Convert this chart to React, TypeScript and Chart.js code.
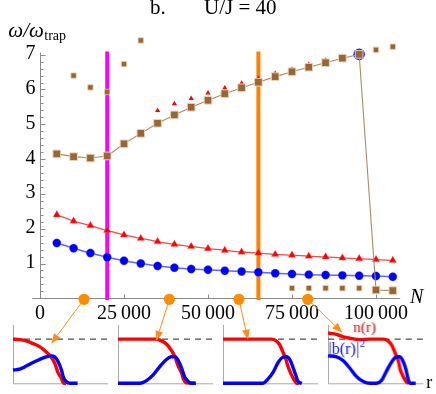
import React, { useEffect, useRef } from "react";
import { Chart, registerables } from "chart.js";
Chart.register(...registerables);

// ---------- main chart data ----------
const particleNumbers = [5000, 10000, 15000, 20000, 25000, 30000, 35000, 40000, 45000, 50000, 55000, 60000, 65000, 70000, 75000, 80000, 85000, 90000, 95000, 100000, 105000];
const blueMode = [1.59, 1.44, 1.30, 1.18, 1.08, 1.00, 0.93, 0.88, 0.84, 0.82, 0.79, 0.77, 0.75, 0.72, 0.70, 0.68, 0.67, 0.66, 0.65, 0.64, 0.62];
const redMode = [2.40, 2.22, 2.09, 1.95, 1.82, 1.72, 1.63, 1.55, 1.49, 1.43, 1.38, 1.33, 1.30, 1.26, 1.24, 1.21, 1.19, 1.16, 1.14, 1.11, 1.09];
const brownMode = [4.15, 4.07, 4.03, 4.09, 4.44, 4.74, 5.03, 5.27, 5.49, 5.69, 5.88, 6.05, 6.21, 6.37, 6.51, 6.64, 6.77, 6.90, 7.01, 0.24, 0.22];
const brownExtraHighN = [10000, 15000, 20000, 25000, 30000, 100000, 105000];
const brownExtraHigh = [6.40, 6.06, 5.93, 6.73, 7.41, 7.14, 7.23];
const brownExtraLowN = [75000, 80000, 85000, 90000, 95000];
const brownExtraLow = [0.29, 0.29, 0.29, 0.29, 0.29];
const redExtraN = [35000, 40000, 45000, 50000, 55000, 60000, 65000, 70000, 75000, 80000, 85000];
const redExtra = [5.40, 5.59, 5.74, 5.90, 6.04, 6.18, 6.32, 6.46, 6.58, 6.72, 6.84];
const blueExtraN = [95000];
const blueExtra = [7.01];
const markerLinesN = [20000, 65000];
const markerLineColors = ["#ff00ff", "#ff8000"];
const markerLineRange = [-0.05, 7.09];
const profileMarkersN = [13100, 38500, 59200, 79700];
const xTickValues = [0, 25000, 50000, 75000, 100000];
const xTickLabels = ["0", "25\u2009000", "50\u2009000", "75\u2009000", "100\u2009000"];
const yTickValues = [1, 2, 3, 4, 5, 6, 7];
const yTickLabels = ["1", "2", "3", "4", "5", "6", "7"];
const xAxisExtent = [-2300, 107200];
const yAxisExtent = [0, 7.06];

// ---------- inset profile data (r normalised, density) ----------
const panel1RedR = [0, 0.07, 0.14, 0.21, 0.28, 0.35, 0.40, 0.44, 0.47, 0.51, 0.53, 0.56];
const panel1RedN = [1.0, 0.99, 0.96, 0.90, 0.83, 0.71, 0.60, 0.45, 0.26, 0.11, 0.01, 0];
const panel1BlueR = [0, 0.07, 0.14, 0.21, 0.28, 0.35, 0.40, 0.44, 0.47, 0.51, 0.53, 0.56, 0.60, 0.68];
const panel1BlueB = [0.30, 0.32, 0.39, 0.47, 0.54, 0.60, 0.62, 0.60, 0.51, 0.30, 0.14, 0.04, 0, 0];

const panel2RedR = [0, 0.40, 0.46, 0.51, 0.56, 0.60, 0.63, 0.67, 0.69, 0.72, 0.81];
const panel2RedN = [1, 1, 0.96, 0.89, 0.75, 0.60, 0.41, 0.23, 0.09, 0.01, 0];
const panel2BlueR = [0, 0.23, 0.30, 0.37, 0.44, 0.51, 0.56, 0.60, 0.63, 0.67, 0.70, 0.74, 0.77, 0.82];
const panel2BlueB = [0, 0, 0.06, 0.19, 0.38, 0.54, 0.60, 0.60, 0.53, 0.34, 0.15, 0.04, 0, 0];

const panel3RedR = [0, 0.51, 0.56, 0.60, 0.63, 0.66, 0.68, 0.71, 0.74, 0.77, 0.80];
const panel3RedN = [1, 1, 0.96, 0.86, 0.71, 0.56, 0.41, 0.24, 0.11, 0.01, 0];
const panel3BlueR = [0, 0.42, 0.47, 0.53, 0.58, 0.63, 0.67, 0.71, 0.74, 0.77, 0.79, 0.83];
const panel3BlueB = [0, 0, 0.09, 0.26, 0.47, 0.59, 0.60, 0.51, 0.34, 0.16, 0.04, 0];

const panel4RedR = [0, 0.09, 0.16, 0.23, 0.33, 0.44, 0.58, 0.63, 0.67, 0.70, 0.74, 0.76, 0.79, 0.82, 0.85];
const panel4RedN = [1.14, 1.11, 1.05, 1.02, 0.99, 1.0, 1.0, 0.96, 0.86, 0.71, 0.49, 0.30, 0.15, 0.04, 0];
const panel4BlueR = [0, 0.09, 0.16, 0.23, 0.30, 0.37, 0.44, 0.51, 0.56, 0.61, 0.67, 0.72, 0.75, 0.79, 0.82, 0.84, 0.86, 0.92];
const panel4BlueB = [0.62, 0.60, 0.51, 0.34, 0.15, 0.04, 0, 0, 0.06, 0.26, 0.49, 0.60, 0.60, 0.49, 0.30, 0.11, 0, 0];

const referenceDensity = 1;
const arrowTargetsR = [0.40, 0.40, 0.26, 0.147];
const arrowTargetsN = [0.90, 0.96, 0.99, 1.15];

// ---------- layout ----------
const W = 436;
const H = 394;
const PLOT = { left: 40, right: 399.5, top: 37.3, bottom: 298.3 };
const INSET_LEFTS = [13.3, 118.3, 223.3, 328.3];
const INSET_W = 95;
const INSET_TOP = 318;
const INSET_PLOT_TOP = 325;
const INSET_PLOT_BOTTOM = 383.3;
const SERIF = '"Liberation Serif", "DejaVu Serif", serif';

const zip = (xs: number[], ys: number[]) => xs.map((x, i) => ({ x, y: ys[i] }));

function drawArrow(ctx: CanvasRenderingContext2D, x0: number, y0: number, x1: number, y1: number) {
  const ang = Math.atan2(y1 - y0, x1 - x0);
  const L = 10, w = 4;
  const bx = x1 - L * Math.cos(ang);
  const by = y1 - L * Math.sin(ang);
  ctx.beginPath();
  ctx.moveTo(x0, y0);
  ctx.lineTo(bx, by);
  ctx.stroke();
  ctx.beginPath();
  ctx.moveTo(x1, y1);
  ctx.lineTo(bx + w * Math.sin(ang), by - w * Math.cos(ang));
  ctx.lineTo(bx - w * Math.sin(ang), by + w * Math.cos(ang));
  ctx.closePath();
  ctx.fill();
}

export default function App() {
  const mainRef = useRef<HTMLCanvasElement>(null);
  const i1 = useRef<HTMLCanvasElement>(null);
  const i2 = useRef<HTMLCanvasElement>(null);
  const i3 = useRef<HTMLCanvasElement>(null);
  const i4 = useRef<HTMLCanvasElement>(null);

  const insetCanvasLeft = (i: number) => INSET_LEFTS[i] - 2;
  const insetCanvasWidth = (i: number) => (i === 3 ? W - insetCanvasLeft(i) : INSET_W + 4);

  useEffect(() => {
    document.body.style.margin = "0";
    const panels = [
      [panel1RedR, panel1RedN, panel1BlueR, panel1BlueB],
      [panel2RedR, panel2RedN, panel2BlueR, panel2BlueB],
      [panel3RedR, panel3RedN, panel3BlueR, panel3BlueB],
      [panel4RedR, panel4RedN, panel4BlueR, panel4BlueB],
    ];
    const refs = [i1, i2, i3, i4];
    const insets: Chart[] = [];

    panels.forEach((p, i) => {
      const cw = insetCanvasWidth(i);
      const insetPlugin = {
        id: "insetDecor" + i,
        beforeDatasetsDraw(chart: any) {
          const { ctx, chartArea: a } = chart;
          ctx.save();
          ctx.strokeStyle = "#a8a8a8";
          ctx.lineWidth = 1;
          ctx.beginPath();
          ctx.moveTo(a.left + 0.5, a.top);
          ctx.lineTo(a.left + 0.5, a.bottom + 0.5);
          ctx.lineTo(a.right, a.bottom + 0.5);
          ctx.stroke();
          ctx.restore();
        },
        afterDatasetsDraw(chart: any) {
          if (i !== 3) return;
          const { ctx, chartArea: a } = chart;
          ctx.save();
          ctx.textBaseline = "alphabetic";
          ctx.fillStyle = "#ff0000";
          ctx.font = `15px ${SERIF}`;
          ctx.fillText("n(r)", a.left + 25, 331.5 - INSET_TOP);
          ctx.fillStyle = "#1515ff";
          ctx.font = `16px ${SERIF}`;
          ctx.fillText("|b(r)|", a.left + 0.5, 354 - INSET_TOP);
          const wb = ctx.measureText("|b(r)|").width;
          ctx.font = `11px ${SERIF}`;
          ctx.fillText("2", a.left + 0.5 + wb + 0.5, 347 - INSET_TOP);
          ctx.fillStyle = "#000";
          ctx.font = `18px ${SERIF}`;
          ctx.fillText("r", a.right + 3, 387.5 - INSET_TOP);
          ctx.restore();
        },
      };
      const c = new Chart(refs[i].current!, {
        type: "scatter",
        data: {
          datasets: [
            {
              data: zip(p[2], p[3]),
              showLine: true,
              borderColor: "#0000ff",
              borderWidth: 3.4,
              pointRadius: 0,
              cubicInterpolationMode: "monotone",
              clip: false,
            } as any,
            {
              data: zip(p[0], p[1]),
              showLine: true,
              borderColor: "#ff0000",
              borderWidth: 3.4,
              pointRadius: 0,
              cubicInterpolationMode: "monotone",
              clip: false,
            } as any,
            {
              data: [
                { x: 0, y: referenceDensity },
                { x: 1, y: referenceDensity },
              ],
              showLine: true,
              borderColor: "#222",
              borderWidth: 1,
              borderDash: [6, 5],
              pointRadius: 0,
            } as any,
          ],
        },
        options: {
          responsive: false,
          animation: false,
          events: [],
          layout: {
            padding: {
              left: 2,
              right: cw - 2 - INSET_W,
              top: INSET_PLOT_TOP - INSET_TOP,
              bottom: H - INSET_PLOT_BOTTOM,
            },
          },
          plugins: { legend: { display: false }, tooltip: { enabled: false } },
          scales: {
            x: { type: "linear", min: 0, max: 1, display: false },
            y: { type: "linear", min: 0, max: 1.32, display: false },
          },
        },
        plugins: [insetPlugin],
      });
      insets.push(c);
    });

    const mainPlugin = {
      id: "mainDecor",
      beforeDatasetsDraw(chart: any) {
        const { ctx } = chart;
        const xs = chart.scales.x;
        const ys = chart.scales.y;
        ctx.save();
        ctx.strokeStyle = "#8a8a8a";
        ctx.lineWidth = 1;
        const y0 = Math.round(ys.getPixelForValue(0)) + 0.5;
        const x0 = Math.round(xs.getPixelForValue(0)) + 0.5;
        // x axis
        ctx.beginPath();
        ctx.moveTo(xs.getPixelForValue(xAxisExtent[0]), y0);
        ctx.lineTo(xs.getPixelForValue(xAxisExtent[1]), y0);
        ctx.stroke();
        // y axis
        ctx.beginPath();
        ctx.moveTo(x0, y0);
        ctx.lineTo(x0, ys.getPixelForValue(yAxisExtent[1]));
        ctx.stroke();
        // x ticks
        xTickValues.forEach((v) => {
          const px = Math.round(xs.getPixelForValue(v)) + 0.5;
          ctx.beginPath();
          ctx.moveTo(px, y0);
          ctx.lineTo(px, y0 - 4);
          ctx.stroke();
        });
        // y ticks (major + minor)
        for (let k = 1; k <= 35; k++) {
          const v = k / 5;
          const py = Math.round(ys.getPixelForValue(v)) + 0.5;
          const major = k % 5 === 0;
          ctx.beginPath();
          ctx.moveTo(x0, py);
          ctx.lineTo(x0 + (major ? 5 : 3), py);
          ctx.stroke();
        }
        // labels
        ctx.fillStyle = "#000";
        ctx.font = `20px ${SERIF}`;
        ctx.textBaseline = "alphabetic";
        ctx.textAlign = "center";
        xTickValues.forEach((v, i) => {
          ctx.fillText(xTickLabels[i], xs.getPixelForValue(v), 319);
        });
        ctx.textAlign = "right";
        yTickValues.forEach((v, i) => {
          ctx.fillText(yTickLabels[i], 35.5, ys.getPixelForValue(v) + 4.5);
        });
        ctx.textAlign = "left";
        // axis titles
        ctx.font = `italic 20px ${SERIF}`;
        ctx.fillText("N", 410, 302.5);
        ctx.font = `italic 21px ${SERIF}`;
        ctx.fillText("\u03c9/\u03c9", 8.3, 36.5);
        const ww = ctx.measureText("\u03c9/\u03c9").width;
        ctx.font = `14px ${SERIF}`;
        ctx.fillText("trap", 8.3 + ww + 0.5, 39.5);
        // title
        ctx.font = `21px ${SERIF}`;
        ctx.fillText("b.", 150, 14);
        ctx.fillText("U/J = 40", 204, 14);
        ctx.restore();
      },
      afterDatasetsDraw(chart: any) {
        const { ctx } = chart;
        const xs = chart.scales.x;
        const ys = chart.scales.y;
        ctx.save();
        ctx.strokeStyle = "#ff8c1a";
        ctx.fillStyle = "#ff8c1a";
        ctx.lineWidth = 1;
        profileMarkersN.forEach((n, i) => {
          const px = xs.getPixelForValue(n);
          const py = ys.getPixelForValue(0) + 1;
          const ins = insets[i];
          const tx = insetCanvasLeft(i) + ins.scales.x.getPixelForValue(arrowTargetsR[i]);
          const ty = INSET_TOP + ins.scales.y.getPixelForValue(arrowTargetsN[i]);
          drawArrow(ctx, px, py, tx, ty);
        });
        ctx.fillStyle = "#ff8c00";
        profileMarkersN.forEach((n) => {
          const px = xs.getPixelForValue(n);
          const py = ys.getPixelForValue(0) + 1;
          ctx.beginPath();
          ctx.arc(px, py, 5.6, 0, Math.PI * 2);
          ctx.fill();
        });
        ctx.restore();
      },
    };

    const brownFill = "#996633";
    const brownEdge = "rgba(232,214,186,0.95)";
    const main = new Chart(mainRef.current!, {
      type: "scatter",
      data: {
        datasets: [
          {
            data: zip(particleNumbers, brownMode),
            showLine: true,
            borderColor: "#b08a62",
            borderWidth: 1.1,
            pointStyle: "rect",
            pointRadius: 5.4,
            pointBackgroundColor: brownFill,
            pointBorderColor: brownEdge,
            pointBorderWidth: 1,
            clip: false,
          } as any,
          {
            data: zip(brownExtraHighN, brownExtraHigh),
            pointStyle: "rect",
            pointRadius: 3.8,
            pointBackgroundColor: brownFill,
            pointBorderColor: brownEdge,
            pointBorderWidth: 0.8,
            clip: false,
          } as any,
          {
            data: zip(brownExtraLowN, brownExtraLow),
            pointStyle: "rect",
            pointRadius: 3.8,
            pointBackgroundColor: brownFill,
            pointBorderColor: brownEdge,
            pointBorderWidth: 0.8,
            clip: false,
          } as any,
          {
            data: zip(redExtraN, redExtra),
            pointStyle: "triangle",
            pointRadius: 3,
            pointBackgroundColor: "#ff0000",
            pointBorderWidth: 0,
            clip: false,
          } as any,
          {
            data: zip(blueExtraN, blueExtra),
            pointStyle: "circle",
            pointRadius: 5.8,
            pointBackgroundColor: "#2222ff",
            pointBorderWidth: 0,
            clip: false,
          } as any,
          {
            data: zip(particleNumbers, redMode),
            showLine: true,
            borderColor: "rgba(255,60,60,0.95)",
            borderWidth: 1.3,
            cubicInterpolationMode: "monotone",
            pointStyle: "triangle",
            pointRadius: 4.3,
            pointBackgroundColor: "#ff0000",
            pointBorderColor: "rgba(255,120,120,0.6)",
            pointBorderWidth: 0.5,
            clip: false,
          } as any,
          {
            data: zip(particleNumbers, blueMode),
            showLine: true,
            borderColor: "rgba(90,90,255,0.95)",
            borderWidth: 1.5,
            cubicInterpolationMode: "monotone",
            pointStyle: "circle",
            pointRadius: 4.2,
            pointBackgroundColor: "#0000ff",
            pointBorderColor: "rgba(120,120,255,0.6)",
            pointBorderWidth: 0.5,
            clip: false,
          } as any,
          ...markerLinesN.map(
            (n, i) =>
              ({
                data: markerLineRange.map((y) => ({ x: n, y })),
                showLine: true,
                borderColor: markerLineColors[i],
                borderWidth: 4,
                pointRadius: 0,
                clip: false,
              } as any)
          ),
        ],
      },
      options: {
        responsive: false,
        animation: false,
        events: [],
        layout: {
          padding: {
            left: PLOT.left,
            right: W - PLOT.right,
            top: PLOT.top,
            bottom: H - PLOT.bottom,
          },
        },
        plugins: { legend: { display: false }, tooltip: { enabled: false } },
        scales: {
          x: { type: "linear", min: 0, max: 107000, display: false },
          y: { type: "linear", min: 0, max: 7.5, display: false },
        },
      },
      plugins: [mainPlugin],
    });

    return () => {
      main.destroy();
      insets.forEach((c) => c.destroy());
    };
  }, []);

  const insetRefs = [i1, i2, i3, i4];
  return (
    <div style={{ position: "relative", width: W, height: H, background: "#fff", overflow: "hidden" }}>
      {insetRefs.map((r, i) => (
        <canvas
          key={i}
          ref={r}
          width={insetCanvasWidth(i)}
          height={H - INSET_TOP}
          style={{
            position: "absolute",
            left: insetCanvasLeft(i),
            top: INSET_TOP,
            width: insetCanvasWidth(i),
            height: H - INSET_TOP,
          }}
        />
      ))}
      <canvas
        ref={mainRef}
        width={W}
        height={H}
        style={{ position: "absolute", left: 0, top: 0, width: W, height: H }}
      />
    </div>
  );
}
